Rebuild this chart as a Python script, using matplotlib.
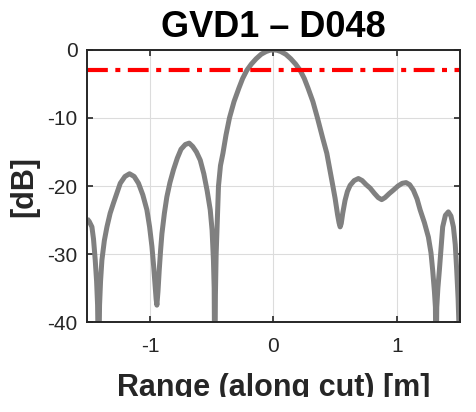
import numpy as np
import matplotlib.pyplot as plt
from matplotlib.patches import Rectangle

plt.rcParams['font.family'] = ['Liberation Sans', 'DejaVu Sans']
plt.rcParams['axes.unicode_minus'] = False

# pattern cut (range in m, level in dB)
range_m = [-1.513, -1.495, -1.473, -1.46, -1.446, -1.435, -1.427, -1.419, -1.411, -1.403,
           -1.392, -1.372, -1.351, -1.325, -1.298, -1.27, -1.243, -1.205, -1.168, -1.13,
           -1.095, -1.06, -1.027, -1.005, -0.986, -0.972, -0.959, -0.952, -0.946, -0.937,
           -0.927, -0.916, -0.905, -0.885, -0.865, -0.84, -0.811, -0.78, -0.75, -0.715,
           -0.684, -0.655, -0.625, -0.594, -0.565, -0.538, -0.513, -0.498, -0.487, -0.481,
           -0.476, -0.471, -0.465, -0.455, -0.446, -0.43, -0.41, -0.385, -0.357, -0.32,
           -0.28, -0.25, -0.216, -0.18, -0.14, -0.10, -0.06, -0.03, 0.0, 0.03,
           0.06, 0.10, 0.14, 0.18, 0.216, 0.25, 0.28, 0.32, 0.357, 0.40,
           0.433, 0.46, 0.48, 0.50, 0.52, 0.532, 0.541, 0.55, 0.562, 0.581,
           0.60, 0.622, 0.655, 0.689, 0.72, 0.752, 0.784, 0.82, 0.85, 0.878,
           0.905, 0.94, 0.973, 1.01, 1.045, 1.076, 1.105, 1.135, 1.165, 1.19,
           1.225, 1.257, 1.278, 1.292, 1.306, 1.314, 1.319, 1.325, 1.334, 1.346,
           1.36, 1.373, 1.395, 1.419, 1.44, 1.46, 1.475, 1.487, 1.498, 1.505,
           1.512, 1.52]
level_db = [-24.8, -25.2, -26.0, -27.8, -30.9, -34.0, -37.5, -48.0, -37.5, -34.0,
            -30.9, -28.0, -26.0, -24.0, -22.5, -21.0, -19.6, -18.6, -18.2, -18.6,
            -19.6, -21.3, -23.5, -26.0, -28.9, -31.8, -34.8, -36.6, -37.5, -35.5,
            -32.4, -29.5, -27.0, -24.0, -21.6, -19.5, -17.6, -15.9, -14.6, -13.9,
            -13.7, -14.2, -15.0, -16.2, -18.2, -20.7, -23.5, -26.5, -30.9, -35.0,
            -50.0, -36.0, -30.0, -24.5, -20.0, -17.0, -15.2, -12.5, -10.0, -7.6,
            -5.6, -4.2, -3.0, -2.1, -1.3, -0.65, -0.25, -0.06, 0.0, -0.06,
            -0.25, -0.65, -1.3, -2.1, -3.0, -4.2, -5.6, -7.6, -10.0, -13.0,
            -15.2, -17.8, -19.8, -21.8, -24.2, -25.4, -26.0, -25.5, -24.0, -22.1,
            -20.8, -19.9, -19.2, -18.9, -19.2, -19.8, -20.3, -21.1, -21.7, -22.0,
            -21.7, -21.1, -20.6, -20.0, -19.6, -19.5, -19.8, -20.6, -21.9, -23.5,
            -25.4, -27.5, -29.8, -32.4, -35.5, -37.8, -48.0, -37.8, -35.0, -32.4,
            -29.0, -26.0, -24.3, -23.8, -24.4, -26.0, -28.6, -32.4, -36.5, -40.5,
            -48.0, -55.0]

x_ticks = [-1, 0, 1]
y_ticks = [-40, -30, -20, -10, 0]
threshold_db = -3

fig = plt.figure(figsize=(4.76, 4.12), dpi=100)
ax = fig.add_axes([0.183, 0.218, 0.783, 0.661])

ax.plot(range_m, level_db, color=(0.5, 0.5, 0.5), linewidth=3.6,
        solid_capstyle='butt', solid_joinstyle='round')
ax.axhline(threshold_db, color='red', linestyle=(0, (5, 1.8, 1.2, 1.8)), linewidth=3)

ax.set_xlim(-1.512, 1.512)
ax.set_ylim(-40, 0)
ax.set_xticks(x_ticks)
ax.set_yticks(y_ticks)
ax.grid(True, color='#dcdcdc', linewidth=0.8)
ax.set_axisbelow(True)
ax.tick_params(direction='in', length=4, width=1.2, top=True, right=True,
               labelsize=15, colors='#262626')
ax.tick_params(axis='y', pad=7)
ax.tick_params(axis='x', pad=11)
for s in ax.spines.values():
    s.set_color('#262626')
    s.set_linewidth(1.4)

ax.set_title('GVD1 – D048', fontsize=26, fontweight='bold', pad=9)
ax.set_xlabel('Range (along cut) [m]', fontsize=22, fontweight='bold',
              color='#262626', labelpad=12)
ax.set_ylabel('[dB]', fontsize=22, fontweight='bold', color='#262626', labelpad=6)

# the original export is cropped just under the x label
fig.add_artist(Rectangle((0, 0), 1, 15 / 412, transform=fig.transFigure,
                         facecolor='white', edgecolor='none', zorder=10))

fig.savefig('out.png', dpi=100)
